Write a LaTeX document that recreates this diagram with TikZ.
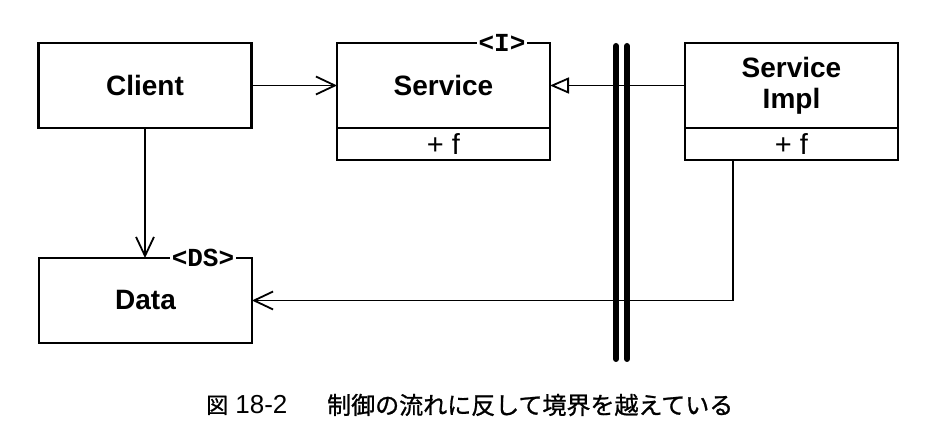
\documentclass[tikz,border=0pt]{standalone}
\usepackage{fontspec}
\setmainfont{Liberation Sans}
\setmonofont{Liberation Mono}
\newfontfamily\cjk[AutoFakeBold=1.0]{Noto Sans CJK JP}
\usetikzlibrary{arrows.meta}
\tikzset{
  box/.style={draw, line width=2.2pt, rectangle, minimum width=213pt, inner sep=0pt, outer sep=0pt, align=center},
  namefont/.style={font=\fontsize{28}{31}\selectfont\bfseries},
  opsfont/.style={font=\fontsize{29}{30}\selectfont},
  stereo/.style={fill=white, inner sep=1.5pt, font=\fontsize{26}{26}\selectfont\ttfamily\bfseries},
  conn/.style={line width=1.8pt},
  openarrow/.style={conn, -{Straight Barb[length=19pt,width=18pt,line width=1.8pt]}},
  inherit/.style={conn, -{Triangle[open,length=19pt,width=16pt,line width=1.8pt]}},
  boundary/.style={line width=6pt, line cap=round},
}
\begin{document}
\begin{tikzpicture}[x=1pt,y=-1pt]
\useasboundingbox (0,0) rectangle (930,446);
% classes
\node[box, namefont, minimum height=85pt] (client) at (145,85.5) {Client};
\node[box, namefont, minimum height=85pt] (service) at (443.5,85.5) {Service};
\node[box, opsfont, minimum height=32pt, anchor=north] (serviceops) at (service.south) {+ f};
\node[box, namefont, minimum height=85pt] (simpl) at (791.5,85.5) {Service\\Impl};
\node[box, opsfont, minimum height=32pt, anchor=north] (simplops) at (simpl.south) {+ f};
\node[box, namefont, minimum height=85pt] (data) at (145.5,300.5) {Data};
% stereotypes
\node[stereo] (stI) at (502,43) {<I>};
\node[stereo] (stDS) at (203,258) {<DS>};
% connectors
\draw[openarrow] (client.east) -- (service.west);
\draw[inherit] (simpl.west) -- (service.east);
\draw[openarrow] (client.south) -- (client.south |- data.north);
\coordinate (turn) at (733,300.5);
\draw[openarrow] (simplops.south -| turn) -- (turn) -- (data.east);
% boundary
\coordinate (b1t) at (616,46);
\coordinate (b1b) at (616,359);
\coordinate (b2t) at (627,46);
\coordinate (b2b) at (627,359);
\draw[boundary] (b1t) -- (b1b);
\draw[boundary] (b2t) -- (b2b);
% caption
\node[anchor=west, inner sep=0pt, font=\fontsize{26}{26}\selectfont] (capnum) at (206,405) {{\fontsize{22}{22}\selectfont\cjk\bfseries 図} 18-2};
\node[anchor=west, inner sep=0pt, font=\fontsize{24}{24}\selectfont\cjk\bfseries] (caption) at (327,405) {制御の流れに反して境界を越えている};
\end{tikzpicture}
\end{document}
